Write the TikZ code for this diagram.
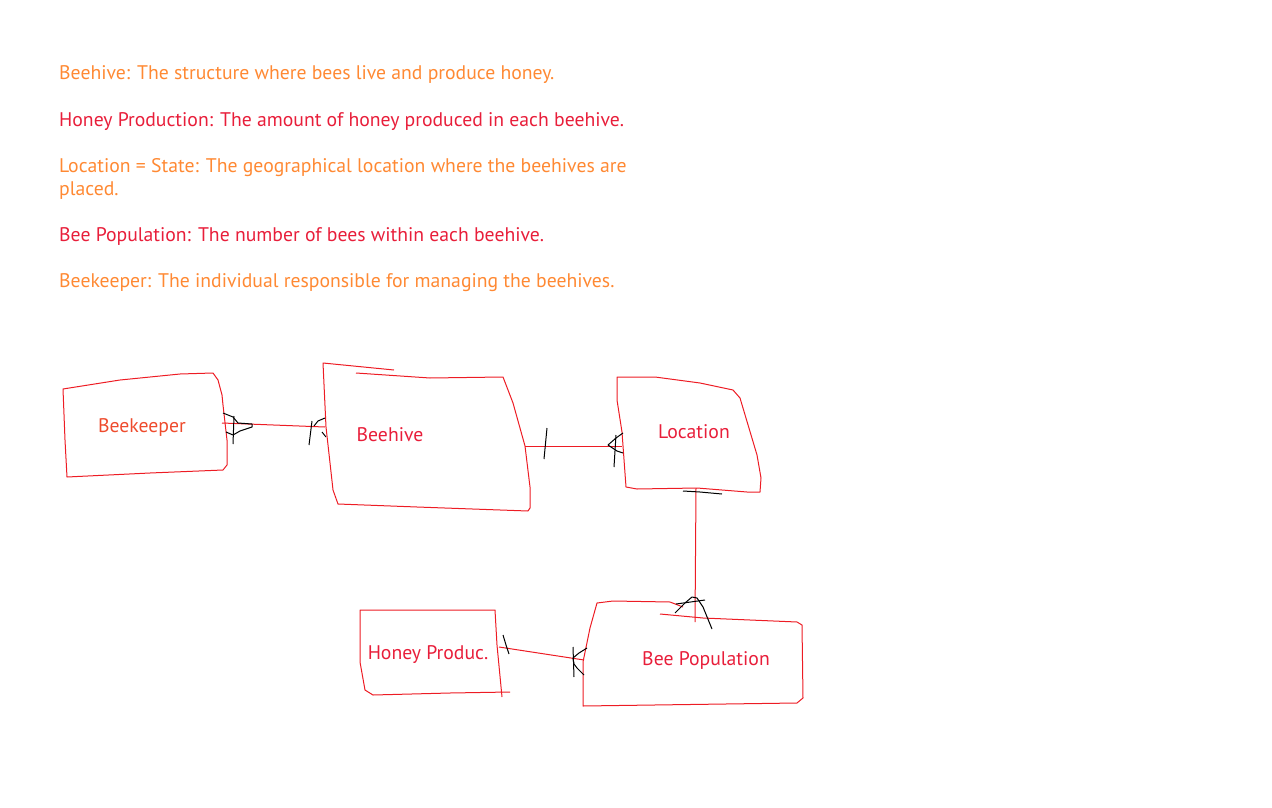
\documentclass[tikz,border=0pt]{standalone}
\usepackage{fontspec}
\setmainfont{PT Sans}
\definecolor{penred}{RGB}{237,28,36}
\definecolor{txtorange}{RGB}{255,137,51}
\definecolor{txtred}{RGB}{232,30,58}
\definecolor{txtkeeper}{RGB}{238,75,45}

\begin{document}
\begin{tikzpicture}[x=1pt,y=-1pt,
   note/.style={anchor=base west,inner sep=0pt,font=\fontsize{19.7}{24}\selectfont},
   entname/.style={anchor=base,inner sep=0pt,text=txtred,font=\fontsize{19.7}{24}\selectfont},
   box/.style={draw=penred,line width=1pt,line join=round},
   rel/.style={draw=penred,line width=1pt},
   foot/.style={draw=black,line width=1pt,line join=round}]
   \useasboundingbox (0,0) rectangle (1272,808);

   % descriptions
   \node[note,text=txtorange] (dHive) at (59,80) {Beehive: The structure where bees live and produce honey.};
   \node[note,text=txtred] (dHoney) at (59,126) {Honey Production: The amount of honey produced in each beehive.};
   \node[note,text=txtorange] (dLoc) at (59,172) {Location = State: The geographical location where the beehives are};
   \node[note,text=txtorange] (dLoc2) at (59,195) {placed.};
   \node[note,text=txtred] (dPop) at (59,241) {Bee Population: The number of bees within each beehive.};
   \node[note,text=txtorange] (dKeeper) at (59,287) {Beekeeper: The individual responsible for managing the beehives.};

   % entities
   \node[entname,text=txtkeeper] (keeper) at (142,432) {Beekeeper};
   \node[entname] (hive) at (390,441) {Beehive};
   \node[entname] (loc) at (694,438) {Location};
   \node[entname] (honey) at (428,659) {Honey Produc.};
   \node[entname] (pop) at (706,665) {Bee Population};

   \draw[box] (63,389) -- (120,380) -- (180,374) -- (213,373) -- (218,380) -- (222,395) -- (223,405)
      -- (227,440) -- (227,465) -- (223,470) -- (150,473) -- (67,477) -- (65,440) -- cycle;
   \draw[box] (394,370) -- (323,363) -- (326,427) -- (333,490) -- (338,504) -- (417,507) -- (528,511)
      -- (530,508) -- (530,487) -- (525,446) -- (513,403) -- (503,377) -- (430,378) -- (356,373);
   \draw[box] (617,377) -- (655,377) -- (700,383) -- (733,390) -- (740,398) -- (757,455) -- (761,478)
      -- (760,492) -- (747,492) -- (697,488) -- (637,489) -- (626,487) -- (622,432) -- (617,400) -- cycle;
   \draw[box] (502,697) -- (497,645) -- (495,610) -- (360,610) -- (360,662) -- (365,690) -- (373,695)
      -- (450,693) -- (510,692);
   \draw[box] (683,607) -- (670,602) -- (613,601) -- (597,603) -- (590,628) -- (583,662) -- (583,706)
      -- (797,703) -- (803,698) -- (802,625) -- (797,622) -- (703,618) -- (660,614);

   % ports
   \coordinate (keeper-e) at (222,423);
   \coordinate (hive-w) at (325,427);
   \coordinate (hive-e) at (525,446);
   \coordinate (loc-w) at (622,446);
   \coordinate (loc-s) at (696,488);
   \coordinate (pop-n) at (695,622);
   \coordinate (honey-e) at (499,647);
   \coordinate (pop-w) at (584,660);

   \draw[rel] (keeper-e) -- (hive-w);
   \draw[rel] (hive-e) -- (loc-w);
   \draw[rel] (loc-s) -- (pop-n);
   \draw[rel] (honey-e) -- (pop-w);

   % crow's feet
   \draw[foot] (223,413) -- (233,417) -- (238,423) -- (252,424) -- (252,427) -- (240,431) -- (233,435) -- (226,432);
   \draw[foot] (234,416) -- (233,444);
   \draw[foot] (312,421) -- (309,445);
   \draw[foot] (325,418) -- (318,421) -- (314,426);
   \draw[foot] (322,432) -- (326,437);
   \draw[foot] (547,428) -- (544,459);
   \draw[foot] (623,433) -- (616,438) -- (608,445) -- (617,451) -- (623,453);
   \draw[foot] (616,435) -- (614,467);
   \draw[foot] (683,491) -- (700,492) -- (722,494);
   \draw[foot] (675,613) -- (685,603) -- (692,597) -- (697,598) -- (703,607) -- (712,629);
   \draw[foot] (676,604) -- (705,600);
   \draw[foot] (503,635) -- (506,645) -- (509,654);
   \draw[foot] (587,648) -- (579,653) -- (573,658) -- (574,664) -- (577,668) -- (584,675);
   \draw[foot] (573,647) -- (574,677);
\end{tikzpicture}
\end{document}
